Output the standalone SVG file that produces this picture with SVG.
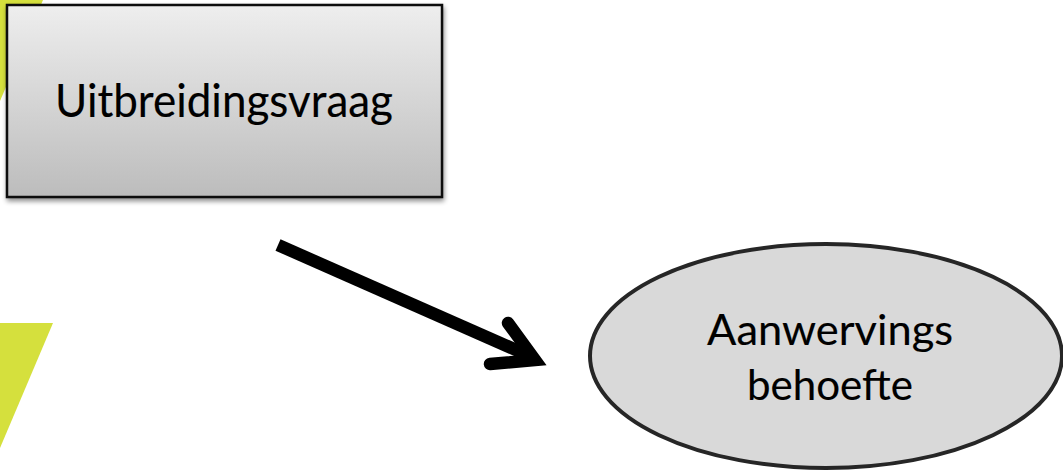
<svg xmlns="http://www.w3.org/2000/svg" width="1063" height="472" viewBox="0 0 1063 472">
  <style>
    .lbl { font-family: Lato, "Noto Sans", "Liberation Sans", sans-serif; fill: #000; stroke: #000; stroke-width: 0.15; text-anchor: middle; }
    .accent { fill: #d5e03d; }
    .conn { fill: none; stroke: #000; stroke-width: 12.5; }
  </style>
  <defs>
    <linearGradient id="boxGrad" x1="0" y1="0" x2="0" y2="1">
      <stop offset="0" stop-color="#eeeeee"/>
      <stop offset="1" stop-color="#bcbcbc"/>
    </linearGradient>
    <filter id="shadow" x="-10%" y="-10%" width="120%" height="130%">
      <feGaussianBlur in="SourceAlpha" stdDeviation="2.5"/>
      <feOffset dx="1" dy="3" result="b"/>
      <feComponentTransfer><feFuncA type="linear" slope="0.45"/></feComponentTransfer>
      <feMerge><feMergeNode/><feMergeNode in="SourceGraphic"/></feMerge>
    </filter>
  </defs>
  <rect width="1063" height="472" fill="#ffffff"/>
  <g id="decor">
    <polygon class="accent" points="0,0 43,0 0,101"/>
    <polygon class="accent" points="0,323 53,323 0,448"/>
  </g>
  <g id="node-uitbreidingsvraag">
    <rect x="7" y="5" width="435" height="192" fill="url(#boxGrad)" stroke="#111" stroke-width="2.5" filter="url(#shadow)"/>
    <text class="lbl" x="224" y="117" font-size="46" textLength="338" lengthAdjust="spacingAndGlyphs">Uitbreidingsvraag</text>
  </g>
  <g id="connectors">
    <line class="conn" x1="278" y1="245" x2="532" y2="357" stroke-linecap="butt"/>
    <polyline class="conn" points="508,323 535,360 490,364" stroke-linecap="round" stroke-linejoin="miter" stroke-miterlimit="10"/>
  </g>
  <g id="node-aanwervingsbehoefte">
    <ellipse cx="826" cy="356" rx="236" ry="112" fill="#d9d9d9" stroke="#262626" stroke-width="4"/>
    <text class="lbl" x="830" y="345" font-size="43" textLength="246" lengthAdjust="spacingAndGlyphs">Aanwervings</text>
    <text class="lbl" x="830" y="400" font-size="43" textLength="166" lengthAdjust="spacingAndGlyphs">behoefte</text>
  </g>
</svg>
